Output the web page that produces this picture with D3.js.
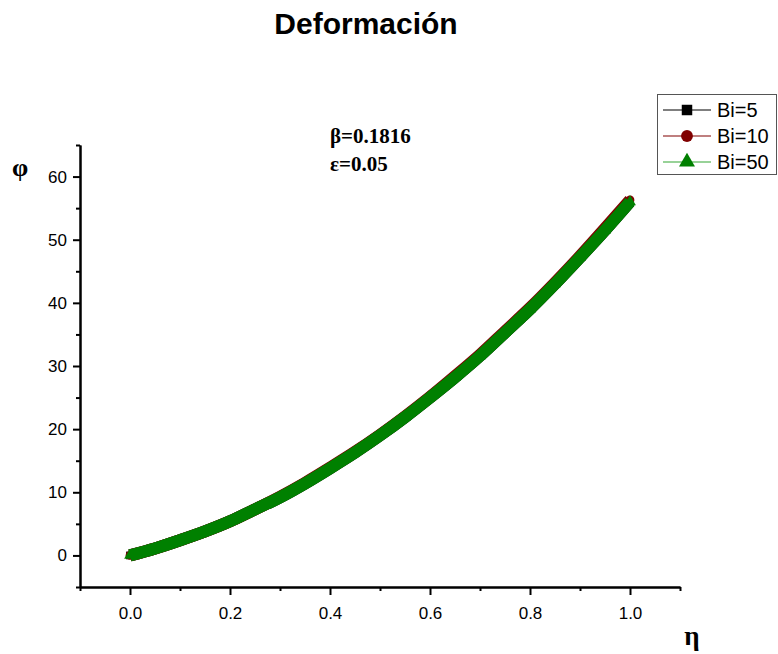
<!DOCTYPE html>
<html>
<head>
<meta charset="utf-8">
<script src="https://cdn.jsdelivr.net/npm/d3@7"></script>
<style>
  html, body { margin: 0; padding: 0; background: #fff; }
  svg { display: block; }
</style>
</head>
<body>
<svg id="chart" width="778" height="654"></svg>
<script>
// ---- data ----
const eta = [0, 0.05, 0.1, 0.15, 0.2, 0.25, 0.3, 0.35, 0.4, 0.45, 0.5, 0.55, 0.6, 0.65, 0.7, 0.75, 0.8, 0.85, 0.9, 0.95, 1.0];
const phiBi5  = [0, 1.1, 2.4, 3.8, 5.4, 7.3, 9.2, 11.4, 13.8, 16.3, 19.0, 21.9, 25.0, 28.2, 31.6, 35.3, 39.0, 43.0, 47.2, 51.5, 56.0];
const phiBi10 = [0, 1.1, 2.4, 3.8, 5.4, 7.3, 9.3, 11.5, 13.9, 16.4, 19.1, 22.0, 25.1, 28.4, 31.8, 35.5, 39.2, 43.2, 47.4, 51.8, 56.3];
const phiBi50 = [0, 1.1, 2.4, 3.8, 5.4, 7.3, 9.2, 11.4, 13.8, 16.3, 19.0, 21.9, 25.0, 28.2, 31.6, 35.3, 39.0, 43.0, 47.2, 51.5, 56.0];
const seriesNames = ["Bi=5", "Bi=10", "Bi=50"];
const xTicks = [0.0, 0.2, 0.4, 0.6, 0.8, 1.0];
const yTicks = [0, 10, 20, 30, 40, 50, 60];

const series = [
  { name: seriesNames[0], values: phiBi5,  color: "#000000", line: "#000000", symbol: d3.symbolSquare },
  { name: seriesNames[1], values: phiBi10, color: "#800000", line: "#800000", symbol: d3.symbolCircle },
  { name: seriesNames[2], values: phiBi50, color: "#008000", line: "#33a533", symbol: d3.symbolTriangle }
];

const svg = d3.select("#chart");
const x = d3.scaleLinear().domain([-0.1, 1.1]).range([80, 680]);
const y = d3.scaleLinear().domain([-5, 65]).range([587, 145]);

// title
svg.append("text").attr("x", 366).attr("y", 34).attr("text-anchor", "middle")
  .attr("font-family", "Liberation Sans, Arial, sans-serif").attr("font-weight", "bold")
  .attr("font-size", 30).text("Deformación");

// axes
const xAxis = d3.axisBottom(x).tickValues(xTicks).tickFormat(d3.format(".1f")).tickSize(8).tickSizeOuter(0).tickPadding(12);
const xMinor = d3.axisBottom(x).tickValues([-0.1, 0.1, 0.3, 0.5, 0.7, 0.9, 1.1]).tickFormat("").tickSize(4).tickSizeOuter(0);
const yAxis = d3.axisLeft(y).tickValues(yTicks).tickFormat(d3.format("d")).tickSize(7).tickSizeOuter(0).tickPadding(6);
const yMinor = d3.axisLeft(y).tickValues([-5, 5, 15, 25, 35, 45, 55, 65]).tickFormat("").tickSize(4).tickSizeOuter(0);

function styleAxis(g) {
  g.selectAll("path, line").attr("stroke", "#000").attr("stroke-width", 2);
  g.selectAll("text").attr("font-family", "Liberation Sans, Arial, sans-serif").attr("font-size", 17).attr("fill", "#000");
}
svg.append("g").attr("transform", "translate(0,587)").call(xMinor).call(styleAxis);
svg.append("g").attr("transform", "translate(0,587)").call(xAxis).call(styleAxis);
svg.append("g").attr("transform", "translate(80,0)").call(yMinor).call(styleAxis);
svg.append("g").attr("transform", "translate(80,0)").call(yAxis).call(styleAxis);

// axis labels
svg.append("text").attr("x", 20).attr("y", 176).attr("text-anchor", "middle")
  .attr("font-family", "Liberation Serif, Times New Roman, serif").attr("font-weight", "bold")
  .attr("font-size", 26).text("φ");
svg.append("text").attr("x", 692).attr("y", 645).attr("text-anchor", "middle")
  .attr("font-family", "Liberation Serif, Times New Roman, serif").attr("font-weight", "bold")
  .attr("font-size", 27).text("η");

// annotations
const ann = svg.append("g").attr("font-family", "Liberation Serif, Times New Roman, serif")
  .attr("font-weight", "bold").attr("font-size", 21);
ann.append("text").attr("x", 330).attr("y", 143).text("β=0.1816");
ann.append("text").attr("x", 330).attr("y", 171).text("ε=0.05");

// series
const plot = svg.append("g");
const line = d3.line().x((d, i) => x(eta[i])).y(d => y(d)).curve(d3.curveMonotoneX);
series.forEach(s => {
  plot.append("path").datum(s.values).attr("d", line)
    .attr("fill", "none").attr("stroke", s.color).attr("stroke-width", 12);
  plot.append("g").selectAll("path").data(s.values).join("path")
    .attr("transform", (d, i) => `translate(${x(eta[i])},${y(d)})`)
    .attr("d", d3.symbol().type(s.symbol).size(60))
    .attr("fill", s.color);
});

// legend
const lg = svg.append("g");
lg.append("rect").attr("x", 657.5).attr("y", 94.5).attr("width", 119).attr("height", 80)
  .attr("fill", "#fff").attr("stroke", "#555").attr("stroke-width", 1);
series.forEach((s, i) => {
  const yy = 110 + i * 26;
  lg.append("line").attr("x1", 663).attr("x2", 711).attr("y1", yy).attr("y2", yy)
    .attr("stroke", s.line).attr("stroke-width", 1.2);
  lg.append("path").attr("transform", `translate(687,${yy})`)
    .attr("d", d3.symbol().type(s.symbol).size(110)).attr("fill", s.color);
  lg.append("text").attr("x", 717).attr("y", yy + 7)
    .attr("font-family", "Liberation Sans, Arial, sans-serif").attr("font-size", 20).text(s.name);
});
</script>
</body>
</html>
